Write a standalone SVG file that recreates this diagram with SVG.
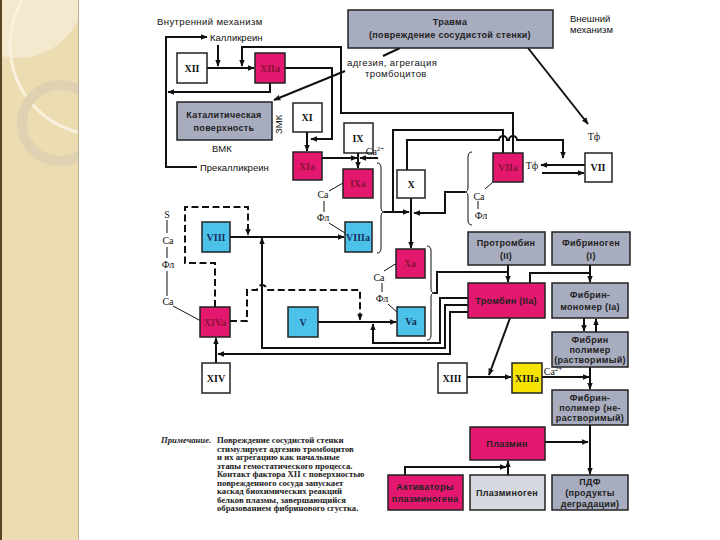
<svg xmlns="http://www.w3.org/2000/svg" width="720" height="540" viewBox="0 0 720 540">
<defs>
<marker id="ah" viewBox="0 0 10 10" refX="9" refY="5" markerWidth="7" markerHeight="7" markerUnits="userSpaceOnUse" orient="auto"><path d="M0,1 L10,5 L0,9 z" fill="#111"/></marker>
<clipPath id="strip"><rect x="0" y="0" width="79" height="540"/></clipPath>
<style>
.bx{stroke:#222;stroke-width:1.5}
.w{fill:#fff}
.m{fill:#e3186e}
.c{fill:#4cc1e9}
.g{fill:#a8acbf}
.lg{fill:#d6d8df}
.y{fill:#f6e400}
.ln{fill:none;stroke:#111;stroke-width:2}
.ds{fill:none;stroke:#111;stroke-width:2;stroke-dasharray:7,3.5}
.th{fill:none;stroke:#111;stroke-width:1}
.lb{font-family:"Liberation Serif",serif;font-weight:bold;font-size:10px;text-anchor:middle;fill:#111}
.lm{fill:#8c1236}
.lc{fill:#15305f}
.gt{font-family:"Liberation Sans",sans-serif;font-weight:bold;font-size:9px;text-anchor:middle;fill:#222;letter-spacing:0.3px}
.sn{font-family:"Liberation Sans",sans-serif;font-size:9.5px;fill:#111}
.sr{font-family:"Liberation Serif",serif;font-size:10px;fill:#111;text-anchor:middle}
.nt{font-family:"Liberation Serif",serif;font-weight:bold;font-size:8.7px;fill:#222}
</style>
</defs>
<rect width="720" height="540" fill="#fff"/>
<g id="background" clip-path="url(#strip)">
<rect x="0" y="0" width="79" height="540" fill="#ecdcb1"/>
<circle cx="18" cy="-8" r="66" fill="#f4e9cf"/>
<circle cx="100" cy="45" r="90" fill="none" stroke="#f8f1de" stroke-width="3"/>
<circle cx="60" cy="123" r="38" fill="none" stroke="#dfd2b2" stroke-width="10"/>
<rect x="0" y="0" width="2" height="540" fill="#5b4325"/>
<rect x="78" y="0" width="1.5" height="540" fill="#bfae90"/>
</g>

<g id="connectors">
<path class="ln" d="M197,167 H166 V37 H207" marker-end="url(#ah)"/>
<path class="ln" d="M270,83 V92 H168" marker-end="url(#ah)"/>
<path class="ln" d="M218,45 V66" marker-end="url(#ah)"/>
<path class="ln" d="M207,68 H254" marker-end="url(#ah)"/>
<path class="ln" d="M513,153 V113 H341 V47 H242 V66" marker-end="url(#ah)"/>
<path class="ln" d="M285,68 H332 V139 H311" marker-end="url(#ah)"/>
<path class="ln" d="M345,71 L274,100" marker-end="url(#ah)"/>
<path class="ln" d="M400,48 L383,56"/>
<path class="ln" d="M528,48 L588,124" marker-end="url(#ah)"/>
<path class="ln" d="M307,132 V151" marker-end="url(#ah)"/>
<path class="ln" d="M322,158 H357" marker-end="url(#ah)"/>
<path class="ln" d="M378,158 H360" marker-end="url(#ah)"/>
<path class="ln" d="M358,153 V168" marker-end="url(#ah)"/>
<path class="th" d="M377,163 Q381,163 381,168 V207 Q381,212 384,212 Q381,212 381,217 V248 Q381,253 377,253"/>
<path class="ln" d="M384,212 H409" marker-end="url(#ah)"/>
<path class="ln" d="M503,153 V130 H393 V212"/>
<path class="ln" d="M407,170 V140 H499 a4,4 0 0 1 8,0 H509 a4,4 0 0 1 8,0 H563 V158" marker-end="url(#ah)"/>
<path class="th" d="M472,152 Q468,152 468,157 V187 Q468,192 465,192 Q468,192 468,197 V220 Q468,225 472,225"/>
<path class="ln" d="M465,192 H445 V213 H414" marker-end="url(#ah)"/>
<path class="ln" d="M411,198 V248" marker-end="url(#ah)"/>
<path class="ln" d="M585,165 H541" marker-end="url(#ah)"/>
<path class="ln" d="M542,173 H584" marker-end="url(#ah)"/>
<path class="th" d="M493,182 L485,189 M478,201 V209"/>
<path class="ln" d="M230,237 H344" marker-end="url(#ah)"/>
<path class="ds" d="M215,307 V263 H185 V207 H248 V235" marker-end="url(#ah)"/>
<path class="th" d="M343,183 L329,191 M324,201 V212 M329,223 L345,233"/>
<path class="th" d="M167,220 V233 M167,247 V258 M167,271 V296 M173,306 L201,321"/>
<path class="ds" d="M230,321 H247 V290 H257 a5,5 0 0 1 10,0 H360 V320" marker-end="url(#ah)"/>
<path class="ln" d="M318,322 H396" marker-end="url(#ah)"/>
<path class="ln" d="M468,298 H440 V343 H373 V324" marker-end="url(#ah)"/>
<path class="ln" d="M468,305 H445 V348 H262 V238" marker-end="url(#ah)"/>
<path class="ln" d="M468,312 H450 V354 H218" marker-end="url(#ah)"/>
<path class="ln" d="M216,363 V338" marker-end="url(#ah)"/>
<path class="th" d="M427,246 Q431,246 431,251 V288 Q431,293 434,293 Q431,293 431,298 V335 Q431,340 427,340"/>
<path class="th" d="M397,263 L384,271 M382,283 V292 M388,304 L398,313"/>
<path class="ln" d="M434,293 H437 V272 H507"/>
<path class="ln" d="M508,265 V282" marker-end="url(#ah)"/>
<path class="ln" d="M530,283 V273 H590"/>
<path class="ln" d="M590,265 V282" marker-end="url(#ah)"/>
<path class="ln" d="M584,318 V331" marker-end="url(#ah)"/>
<path class="ln" d="M596,332 V319" marker-end="url(#ah)"/>
<path class="ln" d="M510,318 L489,375" marker-end="url(#ah)"/>
<path class="ln" d="M467,377 H511" marker-end="url(#ah)"/>
<path class="ln" d="M542,377 H589" marker-end="url(#ah)"/>
<path class="ln" d="M590,367 V389" marker-end="url(#ah)"/>
<path class="ln" d="M590,425 V474" marker-end="url(#ah)"/>
<path class="ln" d="M545,442 H588" marker-end="url(#ah)"/>
<path class="ln" d="M508,475 V461" marker-end="url(#ah)"/>
<path class="ln" d="M405,475 V467 H506" marker-end="url(#ah)"/>
</g>

<g id="n-trauma"><rect class="bx g" x="348" y="10" width="205" height="38"/><text class="gt" x="450" y="25">Травма</text><text class="gt" x="450" y="38">(повреждение  сосудистой стенки)</text></g>
<g id="n-xii"><rect class="bx w" x="177" y="53" width="30" height="30"/><text class="lb" x="192" y="72">XII</text></g>
<g id="n-xiia"><rect class="bx m" x="255" y="53" width="30" height="30"/><text class="lb lm" x="270" y="72">XIIa</text></g>
<g id="n-surface"><rect class="bx g" x="177" y="102" width="95" height="38"/><text class="gt" x="224" y="118" font-size="10">Каталитическая</text><text class="gt" x="224" y="131" font-size="10">поверхность</text></g>
<g id="n-xi"><rect class="bx w" x="293" y="103" width="29" height="29"/><text class="lb" x="307" y="121">XI</text></g>
<g id="n-xia"><rect class="bx m" x="293" y="152" width="29" height="28"/><text class="lb lm" x="307" y="170">XIa</text></g>
<g id="n-ix"><rect class="bx w" x="344" y="123" width="29" height="30"/><text class="lb" x="358" y="142">IX</text></g>
<g id="n-ixa"><rect class="bx m" x="343" y="169" width="30" height="29"/><text class="lb lm" x="358" y="187">IXa</text></g>
<g id="n-x"><rect class="bx w" x="397" y="170" width="28" height="28"/><text class="lb" x="411" y="188">X</text></g>
<g id="n-viia"><rect class="bx m" x="493" y="153" width="30" height="29"/><text class="lb lm" x="508" y="171">VIIa</text></g>
<g id="n-vii"><rect class="bx w" x="585" y="153" width="27" height="29"/><text class="lb" x="598" y="171">VII</text></g>
<g id="n-viii"><rect class="bx c" x="202" y="222" width="28" height="30"/><text class="lb lc" x="216" y="241">VIII</text></g>
<g id="n-viiia"><rect class="bx c" x="345" y="222" width="27" height="30"/><text class="lb lc" x="358" y="241">VIIIa</text></g>
<g id="n-xa"><rect class="bx m" x="396" y="249" width="29" height="29"/><text class="lb lm" x="410" y="267">Xa</text></g>
<g id="n-xiva"><rect class="bx m" x="200" y="307" width="30" height="30"/><text class="lb lm" x="215" y="326">XIVa</text></g>
<g id="n-v"><rect class="bx c" x="288" y="307" width="30" height="30"/><text class="lb lc" x="303" y="326">V</text></g>
<g id="n-va"><rect class="bx c" x="397" y="307" width="28" height="29"/><text class="lb lc" x="411" y="325">Va</text></g>
<g id="n-xiv"><rect class="bx w" x="202" y="363" width="28" height="30"/><text class="lb" x="216" y="382">XIV</text></g>
<g id="n-prothrombin"><rect class="bx g" x="468" y="232" width="77" height="33"/><text class="gt" x="506" y="246">Протромбин</text><text class="gt" x="506" y="259">(II)</text></g>
<g id="n-fibrinogen"><rect class="bx g" x="552" y="232" width="78" height="33"/><text class="gt" x="591" y="246">Фибриноген</text><text class="gt" x="591" y="259">(I)</text></g>
<g id="n-thrombin"><rect class="bx m" x="468" y="283" width="77" height="35"/><text class="gt lm" x="506" y="304">Тромбин (IIa)</text></g>
<g id="n-monomer"><rect class="bx g" x="552" y="283" width="76" height="35"/><text class="gt" x="590" y="298">Фибрин-</text><text class="gt" x="590" y="310">мономер (Ia)</text></g>
<g id="n-polymer-sol"><rect class="bx g" x="552" y="332" width="76" height="35"/><text class="gt" x="590" y="343">Фибрин</text><text class="gt" x="590" y="353">полимер</text><text class="gt" x="590" y="363">(растворимый)</text></g>
<g id="n-xiii"><rect class="bx w" x="438" y="363" width="29" height="30"/><text class="lb" x="452" y="382">XIII</text></g>
<g id="n-xiiia"><rect class="bx y" x="512" y="363" width="30" height="30"/><text class="lb" x="527" y="382">XIIIa</text></g>
<g id="n-polymer-insol"><rect class="bx g" x="552" y="390" width="76" height="35"/><text class="gt" x="590" y="401">Фибрин-</text><text class="gt" x="590" y="411">полимер  (не-</text><text class="gt" x="590" y="421">растворимый)</text></g>
<g id="n-plasmin"><rect class="bx m" x="470" y="427" width="75" height="33"/><text class="gt lm" x="507" y="447">Плазмин</text></g>
<g id="n-activators"><rect class="bx m" x="388" y="475" width="75" height="35"/><text class="gt lm" x="425" y="490">Активаторы</text><text class="gt lm" x="425" y="502">плазминогена</text></g>
<g id="n-plasminogen"><rect class="bx lg" x="470" y="475" width="75" height="35"/><text class="gt" x="507" y="496">Плазминоген</text></g>
<g id="n-pdf"><rect class="bx g" x="552" y="475" width="76" height="35"/><text class="gt" x="590" y="485">ПДФ</text><text class="gt" x="590" y="496">(продукты</text><text class="gt" x="590" y="507">деградации)</text></g>

<g id="labels">
<text class="sn" x="157" y="25" letter-spacing="0.4">Внутренний  механизм</text>
<text class="sn" x="210" y="41">Калликреин</text>
<text class="sn" x="200" y="171">Прекалликреин</text>
<text class="sn" x="212" y="152">ВМК</text>
<text class="sn" x="0" y="0" transform="translate(282,134) rotate(-90)" font-size="9">ЗМК</text>
<text class="sn" x="570" y="22" font-size="8.5">Внешний</text>
<text class="sn" x="570" y="33" font-size="8.5">механизм</text>
<text class="sn" x="347" y="66" font-size="8.5" letter-spacing="0.4">адгезия, агрегация</text>
<text class="sn" x="365" y="77" font-size="8.5" letter-spacing="0.4">тромбоцитов</text>
<text class="sr" x="594" y="140">Тф</text>
<text class="sr" x="532" y="169">Тф</text>
<text class="sr" x="375" y="155" text-anchor="start">Ca<tspan font-size="7" dy="-4">2+</tspan></text>
<text class="sr" x="323" y="198">Ca</text>
<text class="sr" x="323" y="221">Фл</text>
<text class="sr" x="479" y="200">Ca</text>
<text class="sr" x="481" y="219">Фл</text>
<text class="sr" x="379" y="281">Ca</text>
<text class="sr" x="382" y="302">Фл</text>
<text class="sr" x="167" y="218">S</text>
<text class="sr" x="168" y="244">Ca</text>
<text class="sr" x="168" y="268">Фл</text>
<text class="sr" x="168" y="305">Ca</text>
<text class="sr" x="553" y="375" text-anchor="start">Ca<tspan font-size="7" dy="-4">2+</tspan></text>
<text class="nt" x="161" y="443" font-style="italic">Примечание.</text>
<text class="nt" x="217" y="443">Повреждение сосудистой стенки</text>
<text class="nt" x="217" y="451.5">стимулирует адгезию тромбоцитов</text>
<text class="nt" x="217" y="460">и их агрегацию как начальные</text>
<text class="nt" x="217" y="468.5">этапы гемостатического процесса.</text>
<text class="nt" x="217" y="477">Контакт фактора XII с поверхностью</text>
<text class="nt" x="217" y="485.5">поврежденного сосуда запускает</text>
<text class="nt" x="217" y="494">каскад биохимических реакций</text>
<text class="nt" x="217" y="502.5">белков плазмы, завершающийся</text>
<text class="nt" x="217" y="511">образованием фибринового сгустка.</text>
</g>
</svg>
